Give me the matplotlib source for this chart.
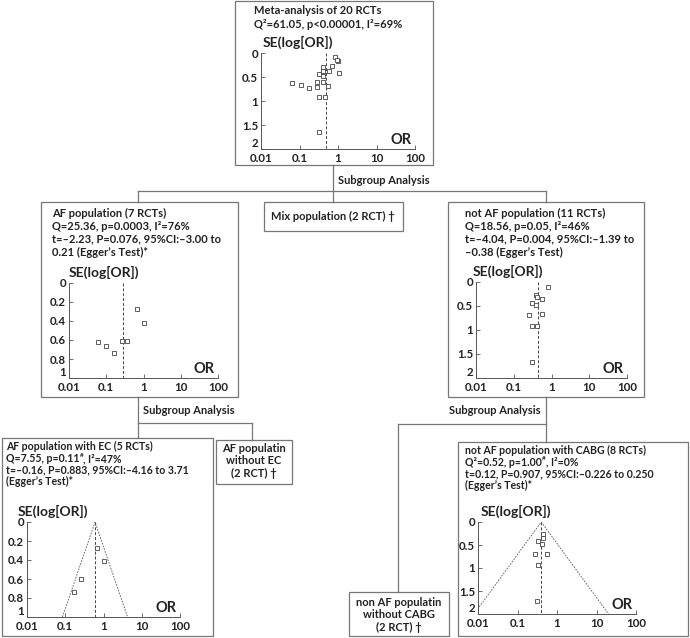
import matplotlib.pyplot as plt
from matplotlib.patches import Rectangle
import numpy as np

plt.rcParams['font.family'] = ['Lato', 'DejaVu Sans']
plt.rcParams['font.weight'] = 'bold'

W, H = 690, 638
TXT = '#222222'
LINE = '#777777'

# funnel plot data (OR, SE of log OR)
all_or = [0.84, 1.0, 0.94, 0.70, 0.42, 0.57, 0.41, 0.33, 1.08, 0.40,
          0.065, 0.107, 0.175, 0.28, 0.28, 0.40, 0.55, 0.33, 0.45, 0.33]
all_se = [0.09, 0.16, 0.15, 0.28, 0.30, 0.37, 0.37, 0.43, 0.42, 0.48,
          0.62, 0.67, 0.73, 0.60, 0.70, 0.61, 0.68, 0.91, 0.91, 1.65]
all_pooled = 0.49

af_or = [0.68, 1.05, 0.06, 0.10, 0.16, 0.26, 0.37]
af_se = [0.27, 0.42, 0.62, 0.66, 0.74, 0.61, 0.61]
af_pooled = 0.28

notaf_or = [0.82, 0.40, 0.42, 0.55, 0.31, 0.38, 0.25, 0.55, 0.31, 0.42, 0.30]
notaf_se = [0.10, 0.27, 0.32, 0.36, 0.43, 0.47, 0.69, 0.67, 0.91, 0.92, 1.67]
notaf_pooled = 0.45

ec_or = [0.66, 1.05, 0.26, 0.165]
ec_se = [0.27, 0.41, 0.60, 0.74]
ec_pooled = 0.60

cabg_or = [0.43, 0.44, 0.33, 0.42, 0.27, 0.56, 0.34, 0.32]
cabg_se = [0.25, 0.34, 0.41, 0.48, 0.70, 0.69, 0.93, 1.71]
cabg_pooled = 0.40

x_ticks = [0.01, 0.1, 1, 10, 100]
x_ticklabels = ['0.01', '0.1', '1', '10', '100']
y_ticks_2 = [0, 0.5, 1, 1.5, 2]
y_ticklabels_2 = ['0', '0.5', '1', '1.5', '2']
y_ticks_1 = [0, 0.2, 0.4, 0.6, 0.8, 1]
y_ticklabels_1 = ['0', '0.2', '0.4', '0.6', '0.8', '1']

fig = plt.figure(figsize=(W / 100, H / 100), dpi=100)
base = fig.add_axes([0, 0, 1, 1])
base.set_xlim(0, W)
base.set_ylim(H, 0)
base.axis('off')

FS = 8.0


def box(x0, y0, x1, y1):
    base.add_patch(Rectangle((x0, y0), x1 - x0, y1 - y0, fill=False,
                             edgecolor=LINE, linewidth=0.9))


def line(xs, ys):
    base.plot(xs, ys, color=LINE, linewidth=0.9)


def lines_of_text(x, ys, texts, size=FS, ha='left'):
    for y, t in zip(ys, texts):
        base.text(x, y, t, ha=ha, va='center', fontsize=size, color=TXT)


def sup_line(x, y, before, sup, after, size=FS):
    # text with a small raised sign in the middle, e.g. p=0.11#
    t1 = base.text(x, y, before, ha='left', va='center', fontsize=size,
                   color=TXT)
    t2 = base.annotate(sup, xy=(1.0, 1.0), xycoords=t1, ha='left',
                       va='top', fontsize=size * 0.6, color=TXT)
    base.annotate(after, xy=(1.0, 0.5), xycoords=(t2, t1), ha='left',
                  va='center', fontsize=size, color=TXT)


def funnel(l, t, r, b, ors, ses, pooled, ymax, yticks, yticklabels,
           cone=False, se_label_x=None):
    ax = fig.add_axes([l / W, 1 - b / H, (r - l) / W, (b - t) / H])
    ax.set_facecolor('none')
    ax.set_xscale('log')
    ax.set_xlim(0.01, 100)
    ax.set_ylim(ymax, 0)
    ax.minorticks_off()
    ax.set_xticks(x_ticks)
    ax.set_xticklabels(x_ticklabels)
    ax.set_yticks(yticks)
    ax.set_yticklabels(yticklabels)
    ax.tick_params(direction='in', length=3, width=0.6, colors='#555555',
                   labelcolor=TXT, labelsize=8.3, pad=2)
    ax.tick_params(axis='x', pad=3)
    # lowest y label sits just above the x axis, as in the original
    ax.get_yticklabels()[-1].set_verticalalignment('bottom')
    for s in ['top', 'right']:
        ax.spines[s].set_visible(False)
    for s in ['left', 'bottom']:
        ax.spines[s].set_color('#555555')
        ax.spines[s].set_linewidth(0.7)
    ax.plot([pooled, pooled], [0, ymax], color='#444444', linewidth=0.7,
            linestyle=(0, (3, 2)))
    if cone:
        lo = pooled * np.exp(-1.96 * ymax)
        hi = pooled * np.exp(1.96 * ymax)
        ax.plot([lo, pooled, hi], [ymax, 0, ymax], color='#555555',
                linewidth=0.6, linestyle=(0, (2, 1.5)))
    ax.plot(ors, ses, linestyle='none', marker='s', markersize=2.9,
            markerfacecolor='white', markeredgecolor='#444444',
            markeredgewidth=0.6)
    ax.text(0.975, 0.025, 'OR', transform=ax.transAxes, ha='right',
            va='bottom', fontsize=10.5, color=TXT)
    sx = l if se_label_x is None else se_label_x
    base.text(sx, t - 11, 'SE(log[OR])', ha='left', va='center',
              fontsize=10, color=TXT)
    return ax


# ---- boxes
box(235, 1, 433, 165)
box(264, 202, 403, 231)
box(41, 202, 238, 397)
box(448, 202, 644, 397)
box(2, 438, 213, 636)
box(216, 440, 292, 484)
box(349, 592, 449, 636)
box(458, 442, 688, 636)

# ---- connectors
line([333, 333], [165, 202])
line([138, 546], [191, 191])
line([138, 138], [191, 202])
line([546, 546], [191, 202])
line([138, 138], [397, 438])
line([138, 252], [423, 423])
line([252, 252], [423, 440])
line([546, 546], [397, 442])
line([398, 546], [424, 424])
line([398, 398], [424, 592])

base.text(338, 180, 'Subgroup Analysis', ha='left', va='center',
          fontsize=FS, color=TXT)
base.text(143, 411, 'Subgroup Analysis', ha='left', va='center',
          fontsize=FS, color=TXT)
base.text(541, 411, 'Subgroup Analysis', ha='right', va='center',
          fontsize=FS, color=TXT)

# ---- box texts
lines_of_text(254, [11, 24], ['Meta-analysis of 20 RCTs',
                              'Q²=61.05, p<0.00001, I²=69%'])
base.text(333, 216, 'Mix population (2 RCT) †', ha='center', va='center',
          fontsize=FS, color=TXT)
lines_of_text(52, [213, 226, 239, 252],
              ['AF population (7 RCTs)',
               'Q=25.36, p=0.0003, I²=76%',
               't=–2.23, P=0.076, 95%CI:–3.00 to',
               '0.21 (Egger\u2019s Test)*'])
lines_of_text(465, [213, 226, 239, 252],
              ['not AF population (11 RCTs)',
               'Q=18.56, p=0.05, I²=46%',
               't=–4.04, P=0.004, 95%CI:–1.39 to',
               '–0.38 (Egger\u2019s Test)'])

lines_of_text(6, [446.5, 470, 481.5],
              ['AF population with EC (5 RCTs)',
               't=–0.16, P=0.883, 95%CI:–4.16 to 3.71',
               '(Egger\u2019s Test)*'], size=7.6)
sup_line(6, 458.5, 'Q=7.55, p=0.11', '#', ', I²=47%', size=7.6)

lines_of_text(254, [448, 460, 473],
              ['AF populatin', 'without EC', '(2 RCT) †'], ha='center')
lines_of_text(399, [602, 614, 627],
              ['non AF populatin', 'without CABG', '(2 RCT) †'], ha='center')

lines_of_text(465, [450.5, 473.5, 485],
              ['not AF population with CABG (8 RCTs)',
               't=0.12, P=0.907, 95%CI:–0.226 to 0.250',
               '(Egger\u2019s Test)*'], size=7.6)
sup_line(465, 462, 'Q²=0.52, p=1.00', '#', ', I²=0%', size=7.6)

# ---- funnel plots
funnel(261, 53, 415, 149, all_or, all_se, all_pooled, 2,
       y_ticks_2, y_ticklabels_2, se_label_x=263)
funnel(69, 283, 218, 378, af_or, af_se, af_pooled, 1,
       y_ticks_1, y_ticklabels_1)
funnel(476, 282, 627, 378, notaf_or, notaf_se, notaf_pooled, 2,
       y_ticks_2, y_ticklabels_2, se_label_x=473)
funnel(27, 522, 180, 617, ec_or, ec_se, ec_pooled, 1,
       y_ticks_1, y_ticklabels_1, cone=True, se_label_x=18)
funnel(478, 522, 636, 614, cabg_or, cabg_se, cabg_pooled, 2,
       y_ticks_2, y_ticklabels_2, cone=True, se_label_x=481)

fig.savefig('out.png', dpi=100)
